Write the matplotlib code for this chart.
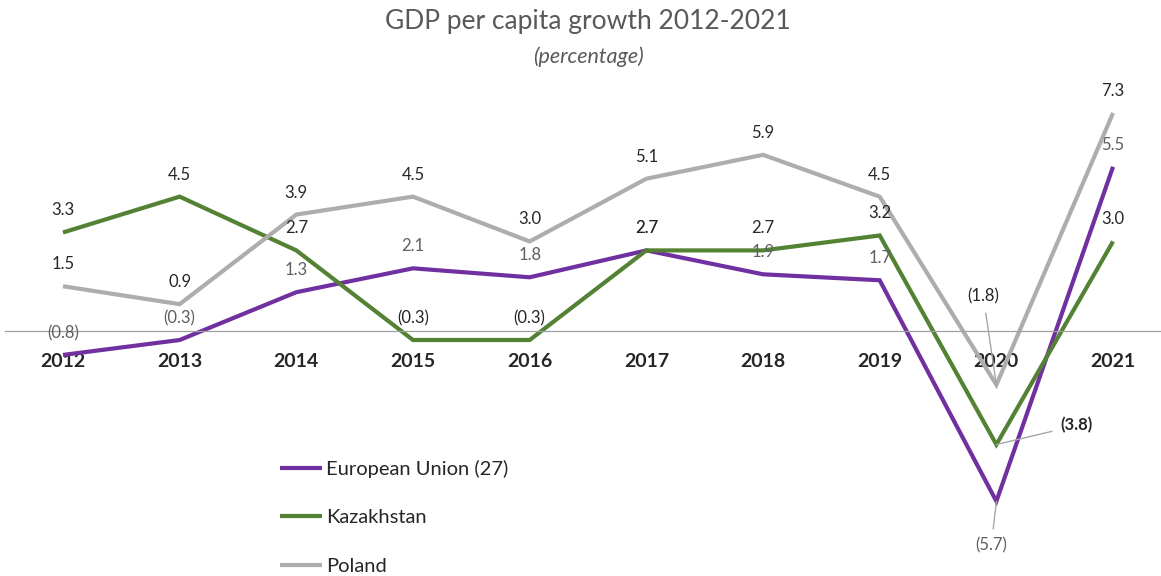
import matplotlib
matplotlib.use("Agg")
import matplotlib.pyplot as plt

# --- DATA ---
years = ["2012", "2013", "2014", "2015", "2016", "2017", "2018", "2019", "2020", "2021"]
eu = [-0.8, -0.3, 1.3, 2.1, 1.8, 2.7, 1.9, 1.7, -5.7, 5.5]
kazakhstan = [3.3, 4.5, 2.7, -0.3, -0.3, 2.7, 2.7, 3.2, -3.8, 3.0]
poland = [1.5, 0.9, 3.9, 4.5, 3.0, 5.1, 5.9, 4.5, -1.8, 7.3]

series_names = ["European Union (27)", "Kazakhstan", "Poland"]
series_colors = ["#7030A0", "#548235", "#ADADAD"]
label_colors = ["#5F5F5F", "#262626", "#262626"]

plt.rcParams["font.family"] = ["Lato", "DejaVu Sans"]


def fmt(v):
    # negatives shown in accounting style
    return f"({abs(v):.1f})" if v < 0 else f"{v:.1f}"


fig = plt.figure(figsize=(11.61, 5.76), dpi=100)
ax = fig.add_axes([5 / 1161, 1 - 570 / 576, 1156 / 1161, 490 / 576])

x = list(range(len(years)))
all_series = [eu, kazakhstan, poland]
lines = []
for vals, name, col in zip(all_series, series_names, series_colors):
    (ln,) = ax.plot(x, vals, color=col, linewidth=3.0, label=name,
                    solid_joinstyle="miter", solid_capstyle="butt")
    lines.append(ln)

# --- DATA LABELS ---
# 2020 labels sit away from the point with a thin leader line
leader_offsets = {0: (-5, -44), 1: (80, 19), 2: (-13, 88)}
idx_2020 = years.index("2020")
for s, (vals, lcol) in enumerate(zip(all_series, label_colors)):
    for i, v in enumerate(vals):
        if i == idx_2020:
            ax.annotate(fmt(v), (i, v), xytext=leader_offsets[s],
                        textcoords="offset pixels", ha="center", va="center",
                        fontsize=12, color=lcol,
                        fontweight="bold" if s == 1 else "normal",
                        arrowprops=dict(arrowstyle="-", color="#A6A6A6",
                                        lw=1.0, shrinkA=4, shrinkB=0))
        else:
            ax.annotate(fmt(v), (i, v), xytext=(0, 22),
                        textcoords="offset pixels", ha="center", va="center",
                        fontsize=12, color=lcol)

# --- AXES ---
ax.set_xlim(-0.497, 9.411)
ax.set_ylim(-8.0, 8.405)
for side in ["top", "right", "left"]:
    ax.spines[side].set_visible(False)
ax.spines["bottom"].set_position(("data", 0))
ax.spines["bottom"].set_color("#A0A0A0")
ax.spines["bottom"].set_linewidth(0.9)
ax.set_yticks([])
ax.set_xticks(x)
ax.set_xticklabels(years)
ax.tick_params(axis="x", length=0, pad=16, labelsize=14, labelcolor="#262626")
for lbl in ax.get_xticklabels():
    lbl.set_fontweight("bold")
ax.patch.set_alpha(0)

# --- TITLE ---
fig.text(588 / 1161, 1 - 22 / 576, "GDP per capita growth 2012-2021",
         ha="center", va="center", fontsize=19, color="#595959")
fig.text(588 / 1161, 1 - 57 / 576, "(percentage)", ha="center", va="center",
         fontsize=15.5, style="italic", color="#595959")

# --- LEGEND ---
ax.legend(handles=lines, loc="upper left", bbox_to_anchor=(280 / 1161, 1 - 460 / 576),
          bbox_transform=fig.transFigure, frameon=False, fontsize=14.5,
          handlelength=2.1, handletextpad=0.2, labelspacing=1.55,
          borderpad=0, borderaxespad=0, labelcolor="#262626")

fig.savefig("out.png", dpi=100)
